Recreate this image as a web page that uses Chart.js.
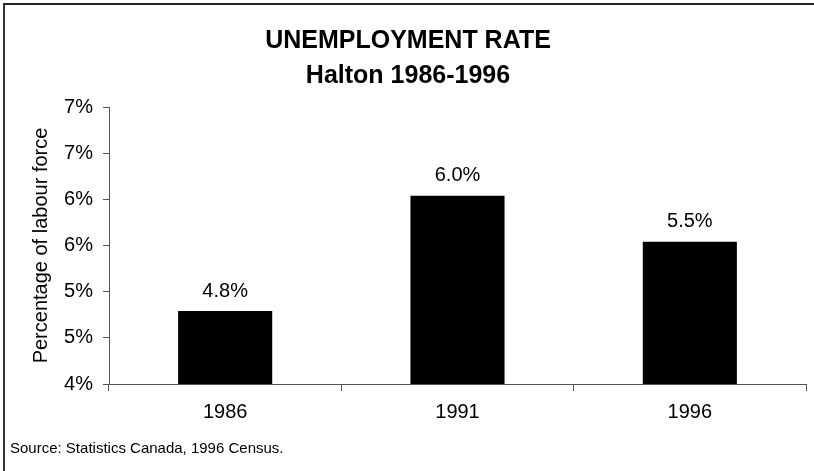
<!DOCTYPE html>
<html>
<head>
<meta charset="utf-8">
<script src="https://cdn.jsdelivr.net/npm/chart.js@4/dist/chart.umd.min.js"></script>
<style>
  html, body { margin: 0; padding: 0; background: #ffffff; }
  #wrap { position: relative; width: 814px; height: 471px; overflow: hidden; background: #fff; }
  #frame { position: absolute; left: 3px; top: 3px; width: 900px; height: 600px;
           border-top: 2px solid #222; border-left: 2px solid #333; box-sizing: border-box; pointer-events: none; }
  canvas { position: absolute; left: 0; top: 0; }
</style>
</head>
<body>
<div id="wrap">
  <canvas id="c" width="814" height="471"></canvas>
  <div id="frame"></div>
</div>
<script>
const categories = ['1986', '1991', '1996'];
const rates = [4.79, 6.04, 5.54];
const titleLines = ['UNEMPLOYMENT RATE', 'Halton 1986-1996'];
const yAxisTitle = 'Percentage of labour force';
const sourceNote = 'Source: Statistics Canada, 1996 Census.';
const yMin = 4, yMax = 7, yStep = 0.5;

const FONT = "'Liberation Sans', Arial, sans-serif";

const barLabels = {
  id: 'barLabels',
  afterDatasetsDraw(chart) {
    const ctx = chart.ctx;
    const meta = chart.getDatasetMeta(0);
    ctx.save();
    ctx.font = '20px ' + FONT;
    ctx.fillStyle = '#000';
    ctx.textAlign = 'center';
    ctx.textBaseline = 'bottom';
    meta.data.forEach((bar, i) => {
      const v = chart.data.datasets[0].data[i];
      ctx.fillText(v.toFixed(1) + '%', bar.x, bar.y - 10);
    });
    ctx.restore();
  }
};

new Chart(document.getElementById('c'), {
  type: 'bar',
  data: {
    labels: categories,
    datasets: [{
      data: rates,
      backgroundColor: '#000000',
      borderWidth: 0,
      categoryPercentage: 1.0,
      barPercentage: 0.405
    }]
  },
  options: {
    responsive: false,
    animation: false,
    devicePixelRatio: 1,
    layout: { padding: { left: 10, right: 8, top: 0, bottom: 0 } },
    plugins: {
      legend: { display: false },
      tooltip: { enabled: false },
      title: {
        display: true,
        text: titleLines,
        color: '#000',
        font: { family: FONT, size: 25, weight: 'bold', lineHeight: 1.4 },
        padding: { top: 24, bottom: 13 }
      },
      subtitle: {
        display: true,
        text: sourceNote,
        position: 'bottom',
        align: 'start',
        color: '#000',
        font: { family: FONT, size: 15, lineHeight: 1.2 },
        padding: { top: 0, bottom: 13 }
      }
    },
    scales: {
      x: {
        grid: { display: true, drawOnChartArea: false, offset: true, tickLength: 7, color: '#555', lineWidth: 1 },
        border: { display: true, color: '#555', width: 1 },
        ticks: { color: '#000', font: { family: FONT, size: 20 }, padding: 9 },
        afterFit(scale) { scale.height = 56; }
      },
      y: {
        min: yMin,
        max: yMax,
        grid: { display: true, drawOnChartArea: false, tickLength: 6, color: '#555', lineWidth: 1 },
        border: { display: true, color: '#555', width: 1 },
        ticks: {
          stepSize: yStep,
          color: '#000',
          font: { family: FONT, size: 20 },
          padding: 10,
          callback: (v) => Math.round(v) + '%'
        },
        title: {
          display: true,
          text: yAxisTitle,
          color: '#000',
          font: { family: FONT, size: 20, lineHeight: 1.2 },
          padding: { top: 19, bottom: 0 }
        },
        afterFit(scale) { scale.width = 99; }
      }
    }
  },
  plugins: [barLabels]
});
</script>
</body>
</html>
